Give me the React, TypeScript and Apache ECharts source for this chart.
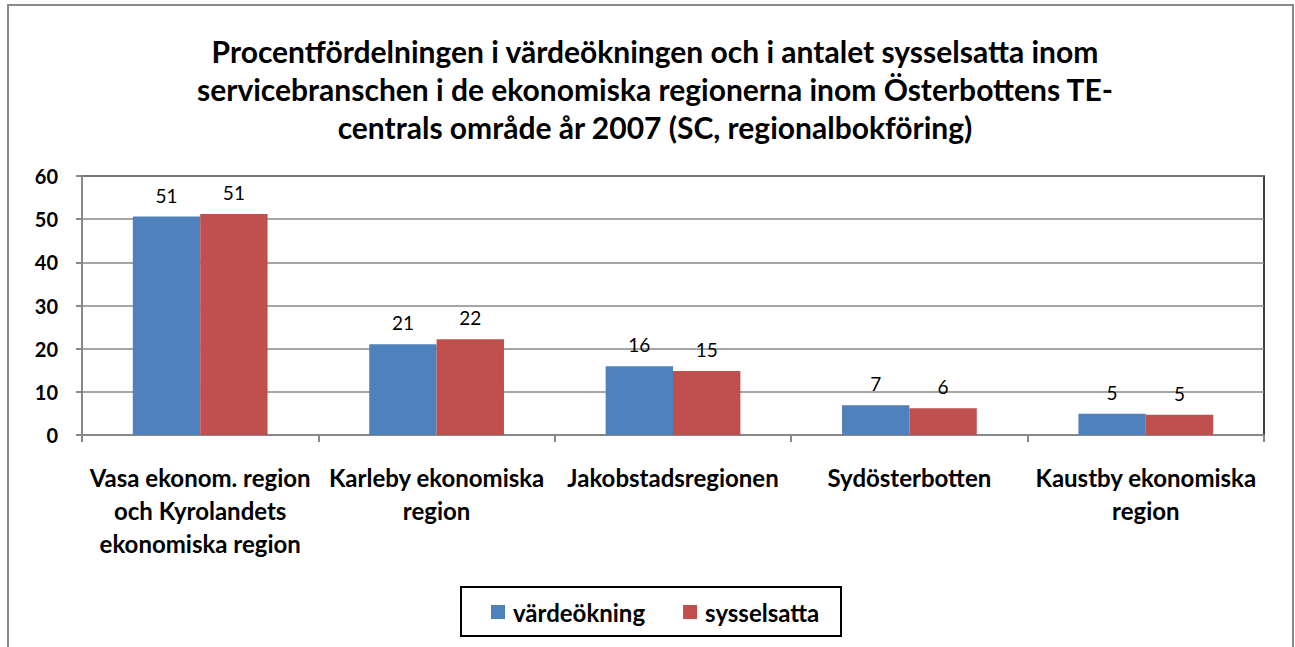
import React, { useEffect, useRef } from "react";
import * as echarts from "echarts";

const titleText =
  "Procentfördelningen i värdeökningen och i antalet sysselsatta inom\nservicebranschen i de ekonomiska regionerna inom Österbottens TE-\ncentrals område år 2007 (SC, regionalbokföring)";

const categories = [
  "Vasa ekonom. region\noch Kyrolandets\nekonomiska region",
  "Karleby ekonomiska\nregion",
  "Jakobstadsregionen",
  "Sydösterbotten",
  "Kaustby ekonomiska\nregion",
];

const seriesNames = ["värdeökning", "sysselsatta"];
const vardeokning = [50.6, 21.0, 15.9, 6.9, 4.9];
const sysselsatta = [51.2, 22.2, 14.8, 6.2, 4.7];
const yTicks = { min: 0, max: 60, interval: 10 };

const FONT = "Lato, 'Open Sans', sans-serif";

export default function App() {
  const ref = useRef<HTMLDivElement>(null);
  useEffect(() => {
    if (!ref.current) return;
    const chart = echarts.init(ref.current, null, { renderer: "svg" });
    const labelCfg = {
      show: true,
      position: "top",
      distance: 12,
      color: "#000",
      fontSize: 19,
      fontFamily: FONT,
      formatter: (p: any) => String(Math.round(p.value)),
    };
    chart.setOption({
      animation: false,
      backgroundColor: "#fff",
      title: {
        text: titleText,
        left: 650,
        top: 27,
        textAlign: "center",
        textStyle: {
          fontFamily: FONT,
          fontSize: 30,
          fontWeight: "bold",
          lineHeight: 38,
          color: "#000",
          align: "center",
        },
      },
      graphic: [
        {
          type: "rect",
          shape: { x: 8, y: 5, width: 1285, height: 700 },
          style: { fill: "none", stroke: "#8a8a8a", lineWidth: 2 },
          silent: true,
        },
        {
          type: "rect",
          shape: { x: 461, y: 587, width: 380, height: 49 },
          style: { fill: "none", stroke: "#000", lineWidth: 2 },
          silent: true,
        },
      ],
      legend: {
        data: seriesNames,
        left: 491,
        top: 600,
        padding: 0,
        itemWidth: 14,
        itemHeight: 14,
        itemGap: 38,
        icon: "rect",
        textStyle: {
          fontFamily: FONT,
          fontSize: 24,
          fontWeight: "bold",
          color: "#000",
          padding: [0, 0, 0, 3],
        },
      },
      grid: {
        left: 82,
        top: 176,
        right: 31,
        bottom: 212,
        show: true,
        borderColor: "#000",
        borderWidth: 1.5,
        containLabel: false,
      },
      xAxis: {
        type: "category",
        data: categories,
        axisLine: { lineStyle: { color: "#888", width: 2 } },
        axisTick: { show: true, length: 7, lineStyle: { color: "#888", width: 2 } },
        axisLabel: {
          interval: 0,
          margin: 26,
          fontFamily: FONT,
          fontSize: 24,
          fontWeight: "bold",
          lineHeight: 33,
          color: "#000",
          align: "center",
        },
      },
      yAxis: {
        type: "value",
        min: yTicks.min,
        max: yTicks.max,
        interval: yTicks.interval,
        axisLine: { show: true, lineStyle: { color: "#888", width: 2 } },
        axisTick: { show: true, length: 6, lineStyle: { color: "#888", width: 2 } },
        splitLine: { lineStyle: { color: "#888", width: 1.5 } },
        axisLabel: {
          margin: 24,
          fontFamily: FONT,
          fontSize: 20,
          fontWeight: "bold",
          color: "#000",
        },
      },
      series: [
        {
          name: seriesNames[0],
          type: "bar",
          data: vardeokning,
          barGap: "0%",
          barCategoryGap: "43%",
          itemStyle: { color: "#4F81BD" },
          label: labelCfg,
        },
        {
          name: seriesNames[1],
          type: "bar",
          data: sysselsatta,
          barGap: "0%",
          barCategoryGap: "43%",
          itemStyle: { color: "#C0504D" },
          label: labelCfg,
        },
      ],
    });
    return () => chart.dispose();
  }, []);
  return (
    <div
      ref={ref}
      style={{ position: "absolute", left: 0, top: 0, width: 1295, height: 647 }}
    />
  );
}
